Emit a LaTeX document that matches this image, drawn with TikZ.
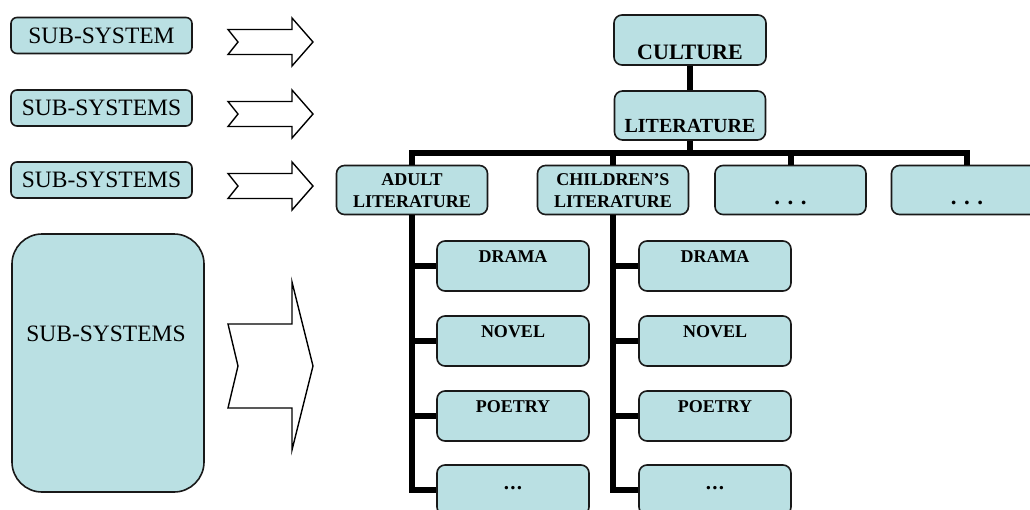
\documentclass[tikz,border=0pt]{standalone}
\usepackage{fontspec}
\setmainfont{Liberation Serif}
\definecolor{boxfill}{RGB}{186,224,227}
\begin{document}
\begin{tikzpicture}[x=1pt,y=-1pt,
  box/.style={draw=black!90, line width=1.6pt, fill=boxfill, rounded corners=8pt, inner sep=0pt},
  sysbox/.style={box, rounded corners=6pt, minimum width=181pt, minimum height=36pt,
                 font=\fontsize{23.5}{28}\selectfont},
  lvl/.style={box, minimum width=151pt, minimum height=49pt},
  leaf/.style={box, minimum width=152pt, minimum height=50pt},
  conn/.style={line width=6pt, black},
  shiftarrow/.style={draw=black, line width=1.4pt, fill=white, line join=miter},
  ttop/.style={font=\bfseries\fontsize{22}{26}\selectfont, anchor=base, inner sep=0pt},
  tlit/.style={font=\bfseries\fontsize{20}{24}\selectfont, anchor=base, inner sep=0pt},
  tsub/.style={font=\bfseries\fontsize{18}{22}\selectfont, anchor=base, inner sep=0pt},
  tdots/.style={font=\bfseries\fontsize{23}{26}\selectfont, anchor=base, inner sep=0pt},
  tsys/.style={font=\fontsize{23.5}{28}\selectfont, anchor=base, inner sep=0pt},
]
\clip (0,0) rectangle (1030,509);
\fill[white] (0,0) rectangle (1030,509);

% sub-system boxes on the left
\node[sysbox] (s1) at (101.5,35.5) {SUB-SYSTEM};
\node[sysbox] (s2) at (101.5,108) {SUB-SYSTEMS};
\node[sysbox] (s3) at (101.5,180) {SUB-SYSTEMS};
\node[box, rounded corners=30pt, minimum width=192pt, minimum height=258pt] (s4) at (108,363) {};
\node[tsys] (s4t) at (106,341) {SUB-SYSTEMS};

% shift arrows
\foreach \yc in {42,114,186}{
  \draw[shiftarrow] (228,\yc-12.5) -- (292,\yc-12.5) -- (292,\yc-24) -- (313,\yc)
    -- (292,\yc+24) -- (292,\yc+12.5) -- (228,\yc+12.5) -- (238,\yc) -- cycle;
}
\draw[shiftarrow] (228,324) -- (292,324) -- (292,282) -- (313,366)
  -- (292,450) -- (292,408) -- (228,408) -- (238,366) -- cycle;

% hierarchy: top levels
\node[box, minimum width=152pt, minimum height=50pt] (cul) at (690,40) {};
\node[ttop] (cult) at (690,59) {CULTURE};
\node[lvl] (lit) at (690,115.5) {};
\node[tlit] (litt) at (690,132) {LITERATURE};

% second level
\node[lvl] (adult) at (412,190) {};
\node[tsub] (adultt1) at (412,185) {ADULT};
\node[tsub] (adultt2) at (412,207) {LITERATURE};
\node[lvl] (child) at (613,190) {};
\node[tsub] (childt1) at (613,185) {CHILDREN’S};
\node[tsub] (childt2) at (613,207) {LITERATURE};
\node[lvl] (oth1) at (790.5,190) {};
\node[tdots] (oth1t) at (790.5,204.5) {.\hspace{7.5pt}.\hspace{7.5pt}.};
\node[lvl] (oth2) at (967,190) {};
\node[tdots] (oth2t) at (967,204.5) {.\hspace{7.5pt}.\hspace{7.5pt}.};

% third level, adult literature
\node[leaf] (ad) at (513,266) {};
\node[tsub] (adt) at (513,262) {DRAMA};
\node[leaf] (an) at (513,341) {};
\node[tsub] (ant) at (513,337) {NOVEL};
\node[leaf] (ap) at (513,416) {};
\node[tsub] (apt) at (513,412) {POETRY};
\node[leaf] (ao) at (513,490) {};
\node[tsub] (aot) at (513,489.5) {\fontsize{21}{24}\selectfont.\kern1.2pt.\kern1.2pt.};

% third level, children's literature
\node[leaf] (cd) at (715,266) {};
\node[tsub] (cdt) at (715,262) {DRAMA};
\node[leaf] (cn) at (715,341) {};
\node[tsub] (cnt) at (715,337) {NOVEL};
\node[leaf] (cp) at (715,416) {};
\node[tsub] (cpt) at (715,412) {POETRY};
\node[leaf] (co) at (715,490) {};
\node[tsub] (cot) at (715,489.5) {\fontsize{21}{24}\selectfont.\kern1.2pt.\kern1.2pt.};

% connectors
\coordinate (bar) at (690,153);
\draw[conn] (cul.south) -- (lit.north);
\draw[conn] (lit.south) -- (lit.south |- bar);
\draw[conn] (adult.north) |- (oth2.north |- bar) -- (oth2.north);
\draw[conn] (child.north) -- (child.north |- bar);
\draw[conn] (oth1.north) -- (oth1.north |- bar);

\draw[conn] (adult.south) |- (ao.west);
\draw[conn] (adult.south |- ad.west) -- (ad.west);
\draw[conn] (adult.south |- an.west) -- (an.west);
\draw[conn] (adult.south |- ap.west) -- (ap.west);

\draw[conn] (child.south) |- (co.west);
\draw[conn] (child.south |- cd.west) -- (cd.west);
\draw[conn] (child.south |- cn.west) -- (cn.west);
\draw[conn] (child.south |- cp.west) -- (cp.west);
\end{tikzpicture}
\end{document}
